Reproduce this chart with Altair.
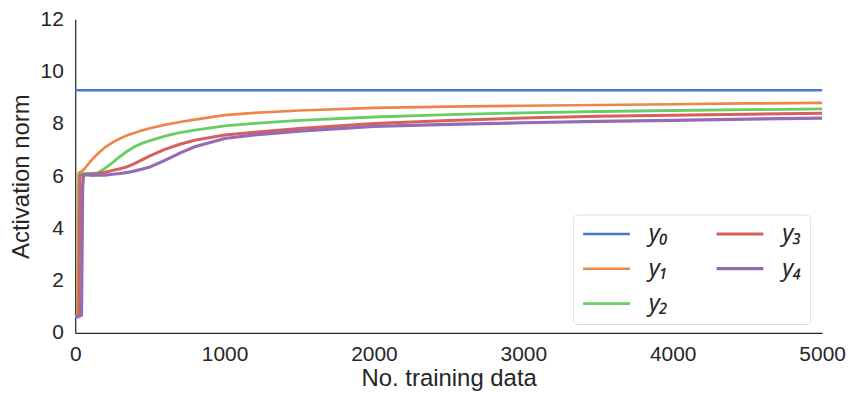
import altair as alt
import pandas as pd

series = ["y₀", "y₁", "y₂", "y₃", "y₄"]
colors = ["#4878d0", "#ee854a", "#6acc64", "#d65f5f", "#956cb4"]
widths = [2.5, 3.2, 3.6, 3.8, 4.2]

x_y0 = [0, 5000]
v_y0 = [9.28, 9.28]

x_y1 = [0, 15, 22, 30, 41, 60, 100, 130, 160, 200, 250, 300, 350, 400, 450, 500, 600, 700, 800, 1000, 1200, 1500, 2000, 2500, 3000, 3500, 4000, 4500, 5000]
v_y1 = [0.65, 0.7, 6.1, 6.15, 6.18, 6.27, 6.55, 6.74, 6.9, 7.1, 7.29, 7.44, 7.56, 7.66, 7.75, 7.83, 7.96, 8.07, 8.16, 8.33, 8.42, 8.51, 8.61, 8.66, 8.69, 8.72, 8.75, 8.78, 8.8]

x_y2 = [0, 20, 27, 40, 60, 100, 150, 200, 250, 300, 350, 400, 450, 500, 600, 700, 800, 1000, 1200, 1500, 2000, 2500, 3000, 3500, 4000, 4500, 5000]
v_y2 = [0.65, 0.7, 6.05, 6.1, 6.1, 6.1, 6.12, 6.3, 6.52, 6.75, 6.96, 7.13, 7.26, 7.36, 7.53, 7.66, 7.76, 7.92, 8.02, 8.13, 8.26, 8.35, 8.42, 8.47, 8.51, 8.54, 8.57]

x_y3 = [0, 25, 33, 45, 60, 100, 150, 200, 250, 300, 350, 400, 450, 500, 600, 700, 800, 1000, 1200, 1500, 2000, 2500, 3000, 3500, 4000, 4500, 5000]
v_y3 = [0.65, 0.7, 6.0, 6.05, 6.05, 6.07, 6.1, 6.15, 6.22, 6.28, 6.36, 6.49, 6.63, 6.77, 7.02, 7.22, 7.37, 7.57, 7.68, 7.82, 8.01, 8.13, 8.22, 8.29, 8.33, 8.37, 8.4]

x_y4 = [0, 20, 42, 50, 56, 80, 120, 160, 200, 250, 300, 350, 400, 450, 500, 600, 700, 800, 1000, 1200, 1500, 2000, 2500, 3000, 3500, 4000, 4500, 5000]
v_y4 = [0.6, 0.62, 0.68, 5.6, 6.03, 6.05, 6.03, 6.05, 6.04, 6.07, 6.1, 6.14, 6.2, 6.27, 6.35, 6.6, 6.88, 7.12, 7.44, 7.58, 7.72, 7.9, 7.98, 8.04, 8.09, 8.13, 8.18, 8.22]

x_ticks = [0, 1000, 2000, 3000, 4000, 5000]
y_ticks = [0, 2, 4, 6, 8, 10, 12]

rows = []
for name, xs, vs in zip(series, [x_y0, x_y1, x_y2, x_y3, x_y4], [v_y0, v_y1, v_y2, v_y3, v_y4]):
    for xv, yv in zip(xs, vs):
        rows.append({"series": name, "x": xv, "y": yv})
df = pd.DataFrame(rows)

chart = alt.Chart(df).mark_line().encode(
    x=alt.X("x:Q", scale=alt.Scale(domain=[0, 5000], nice=False),
            axis=alt.Axis(values=x_ticks, format="d", title="No. training data",
                          labelFlush=False, labelOverlap=False, labelPadding=11,
                          titlePadding=2)),
    y=alt.Y("y:Q", scale=alt.Scale(domain=[0, 12], nice=False),
            axis=alt.Axis(values=y_ticks, format="d", title="Activation norm",
                          labelPadding=12, titlePadding=7)),
    color=alt.Color("series:N", scale=alt.Scale(domain=series, range=colors),
                    legend=alt.Legend(orient="none", legendX=500, legendY=196,
                                      columns=2, title=None, symbolType="stroke",
                                      symbolSize=2209, symbolStrokeWidth=2.5,
                                      labelFont="Noto Sans", labelFontStyle="italic",
                                      labelFontSize=24, labelOffset=17,
                                      rowPadding=10, columnPadding=46, padding=8,
                                      strokeColor="#dcdcdc", cornerRadius=4,
                                      fillColor="white", clipHeight=23,
                                      labelColor="#262626")),
    strokeWidth=alt.StrokeWidth("series:N", scale=alt.Scale(domain=series, range=widths), legend=None),
).properties(
    width=750, height=315,
    padding={"left": 67.5, "top": 10.5, "right": 30, "bottom": 60},
    autosize=alt.AutoSizeParams(type="none"),
).configure_view(strokeWidth=0).configure_axis(
    grid=False, ticks=False, tickSize=0,
    domainColor="#262626", domainWidth=1.25,
    labelFont="Liberation Sans", labelFontSize=21, labelColor="#262626",
    titleFont="Liberation Sans", titleFontSize=24, titleFontWeight="normal",
    titleColor="#262626",
)

chart.save("out.html", embed_options={"renderer": "svg", "actions": False})
